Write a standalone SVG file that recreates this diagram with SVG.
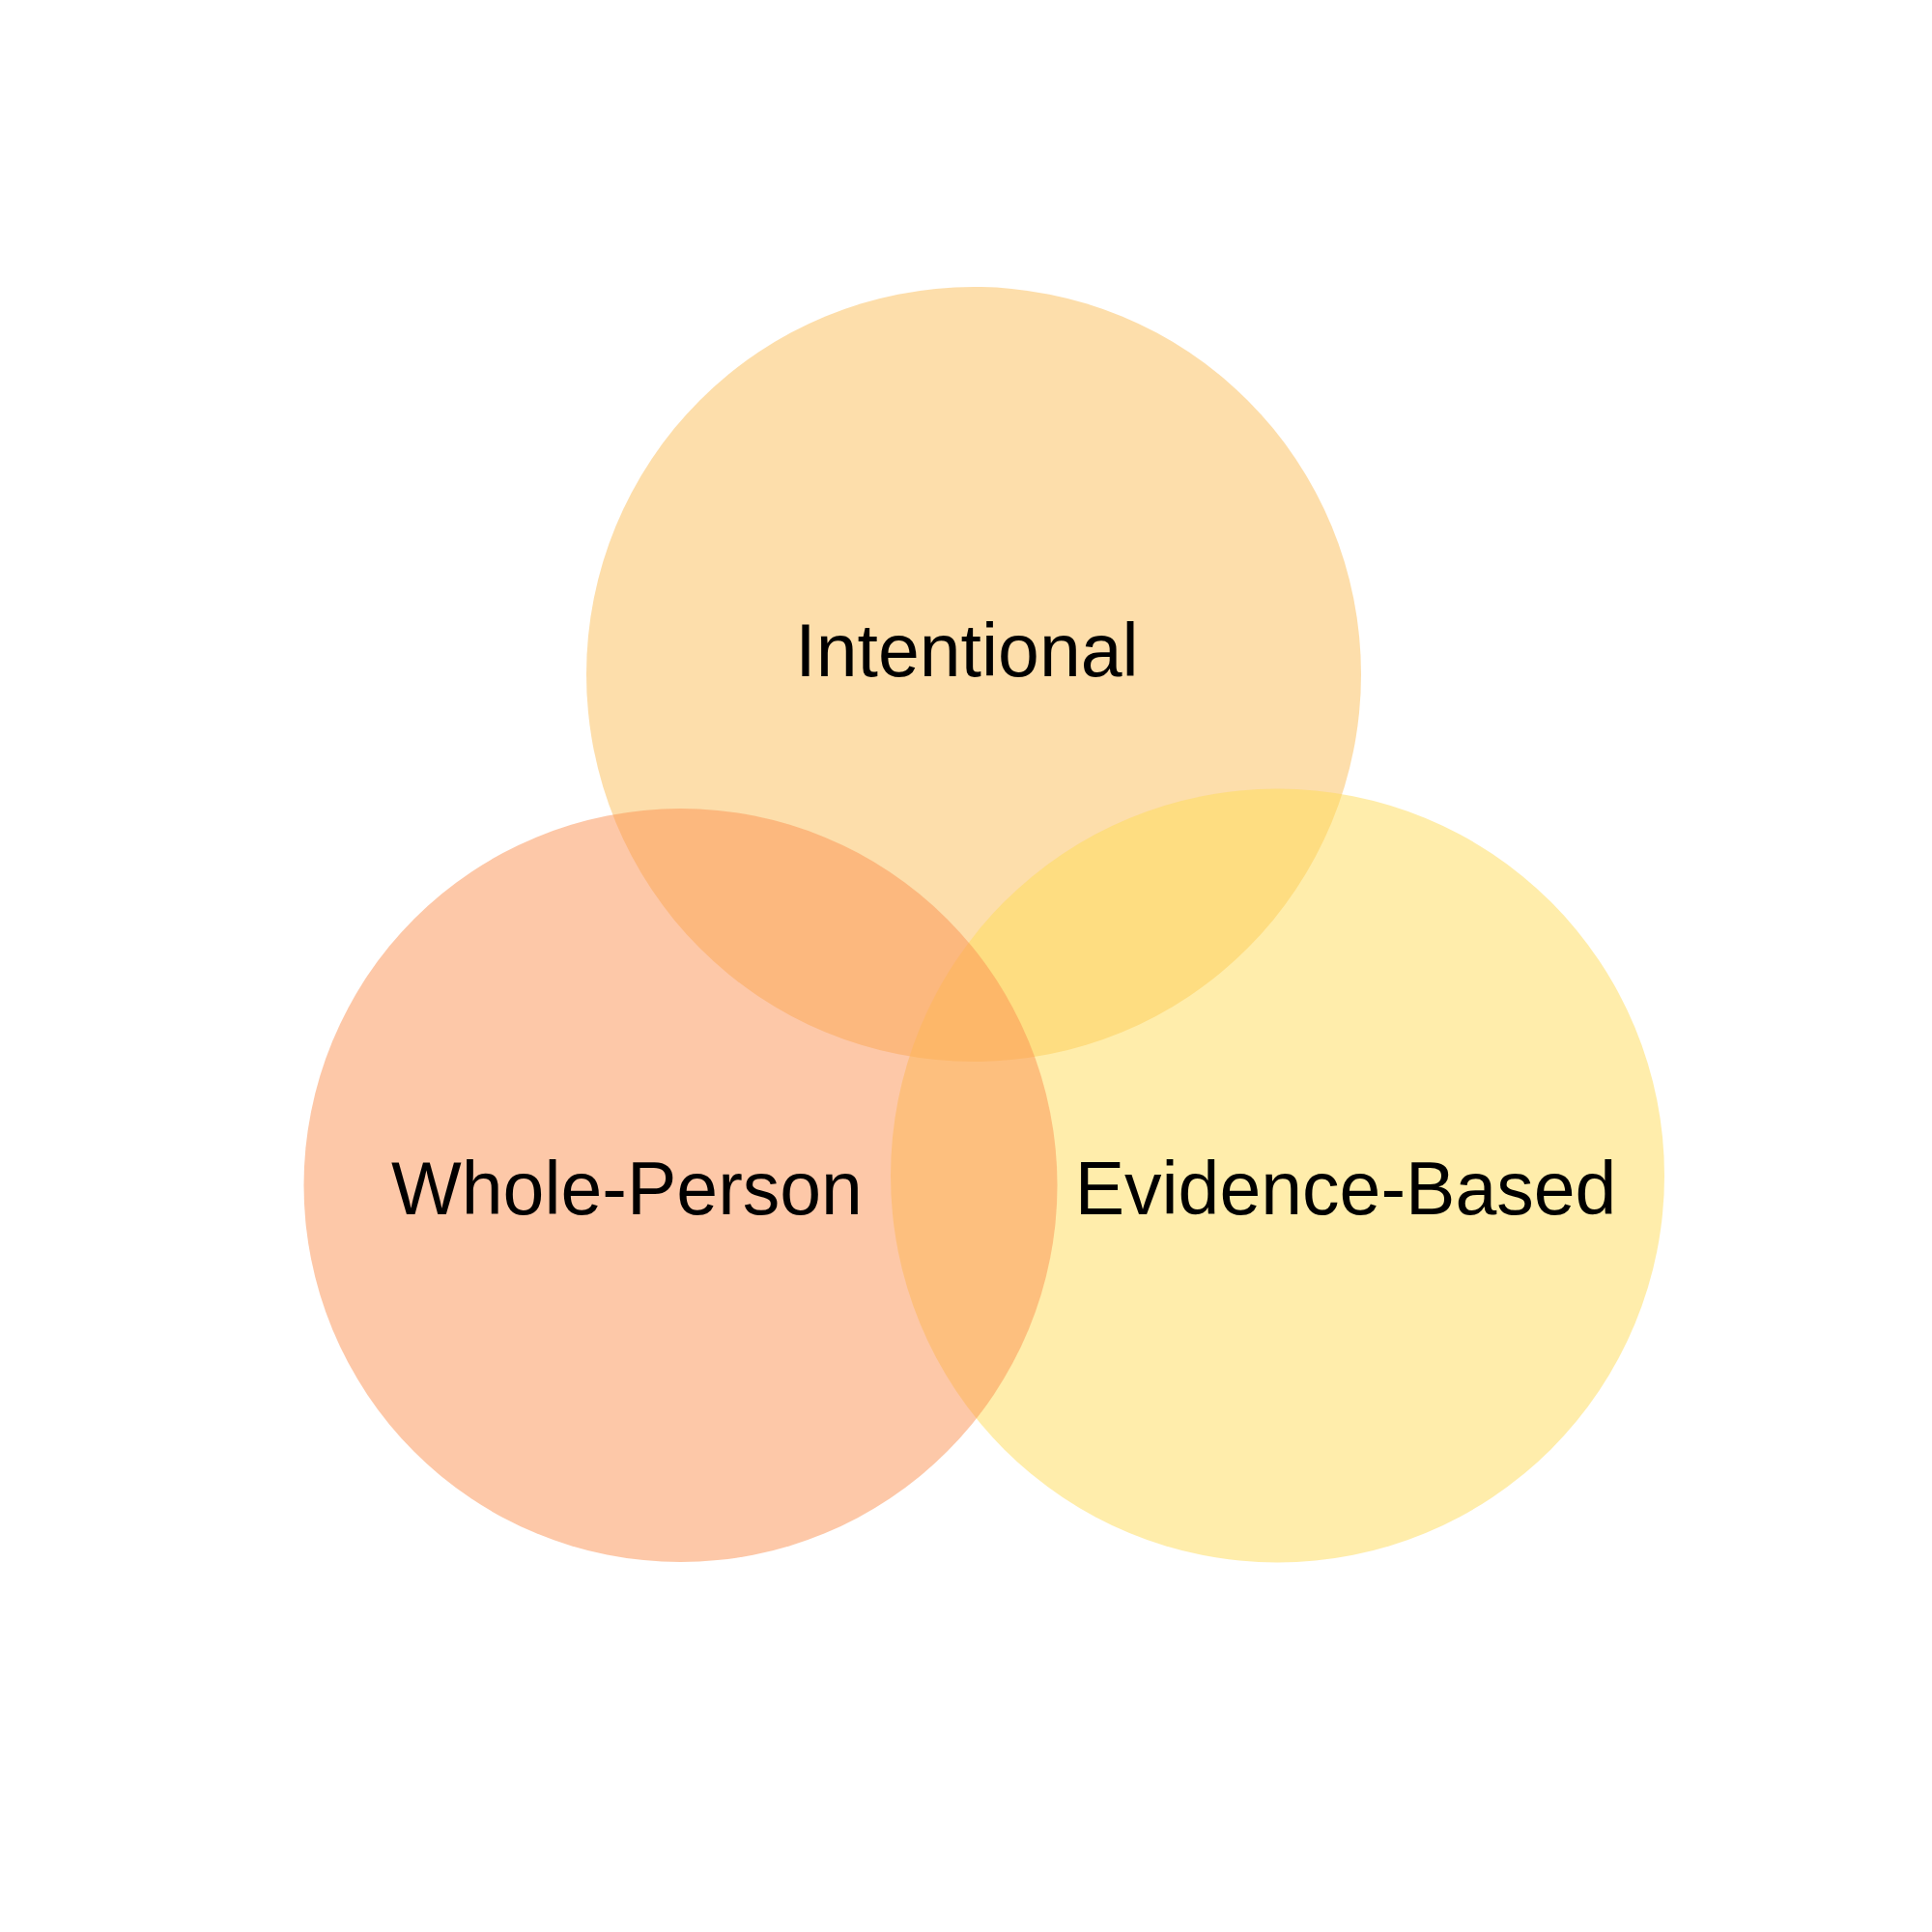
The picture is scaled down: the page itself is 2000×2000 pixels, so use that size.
<svg xmlns="http://www.w3.org/2000/svg" width="2000" height="2000" viewBox="0 0 2000 2000">
<style>
.c{fill-opacity:0.5;stroke:none}
.t{font-family:"Liberation Sans",Arial,sans-serif;font-size:77px;fill:#000;text-anchor:middle}
</style>
<rect width="2000" height="2000" fill="#fff"/>
<g id="intentional">
<circle class="c" cx="1008" cy="698" r="401" fill="#FCBE57"/>
</g>
<g id="evidence-based">
<circle class="c" cx="1322.5" cy="1217" r="400.5" fill="#FFDB57"/>
</g>
<g id="whole-person">
<circle class="c" cx="704.5" cy="1227" r="390" fill="#FB9151"/>
</g>
<g id="labels">
<text class="t" x="1001" y="700">Intentional</text>
<text class="t" x="649" y="1257">Whole-Person</text>
<text class="t" x="1393" y="1257">Evidence-Based</text>
</g>
<g id="connectors"></g>
</svg>
